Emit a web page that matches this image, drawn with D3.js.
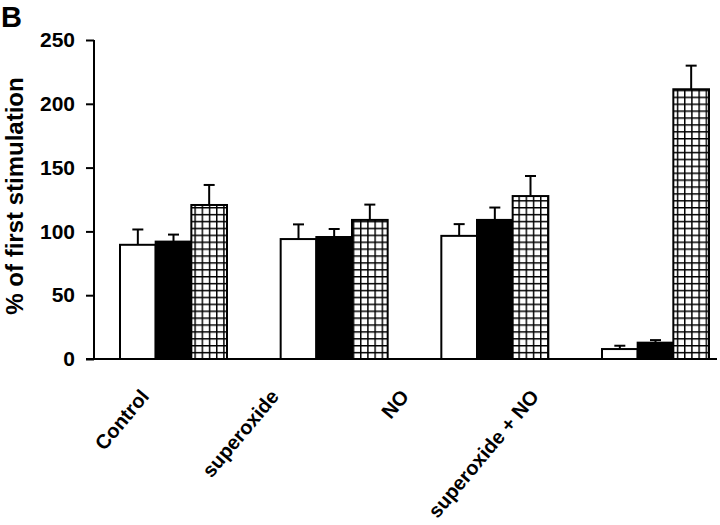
<!DOCTYPE html>
<html>
<head>
<meta charset="utf-8">
<script src="https://cdn.jsdelivr.net/npm/d3@7"></script>
<style>
  html, body { margin: 0; padding: 0; background: #fff; }
  svg { display: block; }
  text { font-family: "Liberation Sans", Arial, sans-serif; font-weight: bold; fill: #000; }
</style>
</head>
<body>
<svg id="chart" width="720" height="525"></svg>
<script>
// ---- data ----
const categories = ["Control", "superoxide", "NO", "superoxide + NO"];
const seriesNames = ["white", "black", "hatched"];
const whiteValues   = [89.5, 94, 96.5, 7.8];
const whiteErrors   = [12, 11.5, 9.2, 2.6];
const blackValues   = [92, 95.6, 109, 12.8];
const blackErrors   = [5.5, 6.3, 9.7, 2];
const hatchedValues = [120.7, 109, 127.7, 211.4];
const hatchedErrors = [15.7, 12, 15.7, 18.5];
const yTicks = [0, 50, 100, 150, 200, 250];
const panelLabel = "B";
const yTitle = "% of first stimulation";

const svg = d3.select("#chart");

// hatch pattern
const defs = svg.append("defs");
const pat = defs.append("pattern")
  .attr("id", "grid").attr("patternUnits", "userSpaceOnUse")
  .attr("width", 7.2).attr("height", 6.9);
pat.append("rect").attr("width", 7.2).attr("height", 6.9).attr("fill", "#fff");
pat.append("path").attr("d", "M0,0.7H7.2M0.7,0V6.9")
  .attr("stroke", "#000").attr("stroke-width", 1.5).attr("fill", "none");

const y = d3.scaleLinear().domain([0, 250]).range([359, 40]);
const x0 = d3.scaleBand().domain(categories).range([120, 709]).paddingInner(0.334).paddingOuter(0);
const x1 = d3.scaleBand().domain(seriesNames).range([0, x0.bandwidth()]);
const labelX = d3.scalePoint().domain(categories).range([150, 540]);

const fills = { white: "#fff", black: "#000", hatched: "url(#grid)" };
const valuesBy = { white: whiteValues, black: blackValues, hatched: hatchedValues };
const errorsBy = { white: whiteErrors, black: blackErrors, hatched: hatchedErrors };

const rows = [];
categories.forEach((c, i) => {
  seriesNames.forEach(s => rows.push({ cat: c, s, v: valuesBy[s][i], e: errorsBy[s][i] }));
});

// error bars
const eb = svg.append("g").attr("stroke", "#000").attr("stroke-width", 2);
rows.forEach(d => {
  const cx = x0(d.cat) + x1(d.s) + x1.bandwidth() / 2;
  eb.append("line").attr("x1", cx).attr("x2", cx).attr("y1", y(d.v)).attr("y2", y(d.v + d.e));
  eb.append("line").attr("x1", cx - 5.5).attr("x2", cx + 5.5).attr("y1", y(d.v + d.e)).attr("y2", y(d.v + d.e));
});

// bars
svg.append("g").selectAll("rect").data(rows).join("rect")
  .attr("x", d => x0(d.cat) + x1(d.s))
  .attr("y", d => y(d.v))
  .attr("width", x1.bandwidth())
  .attr("height", d => y(0) - y(d.v))
  .attr("fill", d => fills[d.s])
  .attr("stroke", "#000").attr("stroke-width", 2);

// y axis
const yAxis = svg.append("g").attr("transform", "translate(94,0)")
  .call(d3.axisLeft(y).tickValues(yTicks).tickSize(8).tickPadding(11));
yAxis.select(".domain").attr("stroke-width", 2).attr("d", "M0,40V359");
yAxis.selectAll(".tick line").attr("stroke-width", 2);
yAxis.selectAll(".tick text").attr("font-size", 21).attr("font-family", "Liberation Sans, Arial, sans-serif")
  .attr("font-weight", "bold").attr("fill", "#000");

// x axis line
svg.append("line").attr("x1", 86).attr("x2", 717).attr("y1", 359).attr("y2", 359)
  .attr("stroke", "#000").attr("stroke-width", 2);

// category labels
svg.append("g").selectAll("text").data(categories).join("text")
  .attr("transform", d => `translate(${labelX(d)},397) rotate(-50)`)
  .attr("text-anchor", "end").attr("font-size", 20).text(d => d);

// y title
svg.append("text").attr("transform", "translate(23,196) rotate(-90)")
  .attr("text-anchor", "middle").attr("font-size", 24).text(yTitle);

// panel label
svg.append("text").attr("x", 1).attr("y", 27).attr("font-size", 29).text(panelLabel);
</script>
</body>
</html>
